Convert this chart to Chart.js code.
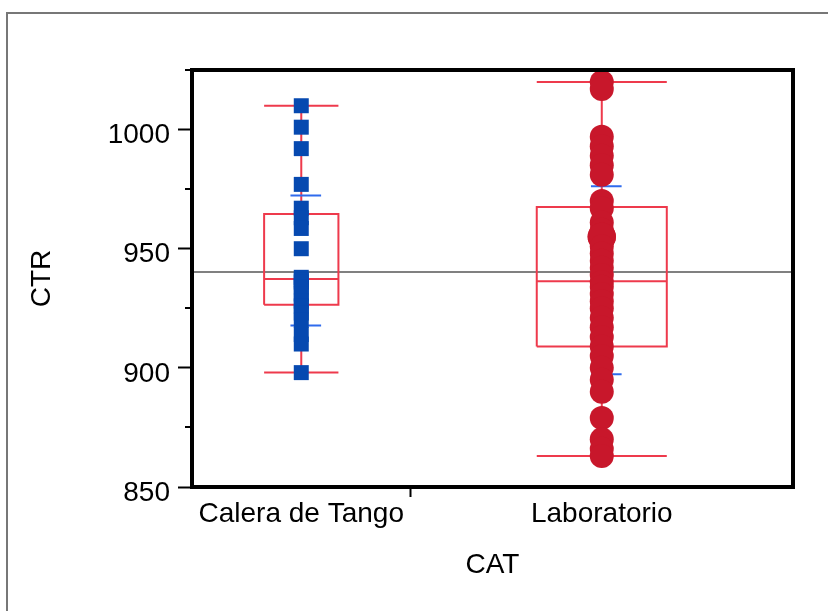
<!DOCTYPE html>
<html>
<head>
<meta charset="utf-8">
<script src="https://cdn.jsdelivr.net/npm/chart.js@4"></script>
<style>
  body { margin: 0; background: #fff; }
  #frame { position: absolute; left: 6px; top: 12px; width: 900px; height: 700px;
           border-top: 2px solid #777; border-left: 2px solid #777; }
  #wrap { position: absolute; left: 0; top: 0; width: 828px; height: 611px; }
</style>
</head>
<body>
<div id="frame"></div>
<div id="wrap"><canvas id="chart"></canvas></div>
<script>
// groups on the CAT axis
let categories = ["Calera de Tango", "Laboratorio"];

// CTR values
let caleraValues = [1010, 1001, 992, 977, 967, 963, 958.5, 950, 938, 937, 936, 934, 931,
  928, 926, 923, 920, 914, 910, 898];
let laboratorioValues = [1020, 1017, 997, 993, 989, 985, 981, 970, 967, 961, 958, 955, 955,
  951, 948, 945, 942, 939, 936, 934, 931, 928, 925, 921, 917, 913, 909, 905, 900, 895, 890,
  879, 870, 866, 863];

// box plot summaries (per category)
let q1 = [926.5, 909];
let median = [937.3, 936.3];
let q3 = [964.6, 967.5];
let whiskerLo = [898, 863];
let whiskerHi = [1010, 1020];

// std dev lines (per category)
let sdLo = [917.8, 897.3];
let sdHi = [972.3, 976.2];

let grandMean = 940.2;

let yTicks = [850, 900, 950, 1000];

const FONT = "'Liberation Sans', Arial, sans-serif";
const RED_BOX = "#ee3a4c";
const BLUE_SD = "#2f6bed";

// x layout like JMP: section width proportional to group size
let groups = [caleraValues, laboratorioValues];
let total = groups.reduce((s, g) => s + g.length, 0);
let centers = [], edges = [0];
groups.forEach((g, i) => {
  let w = g.length / total * 100;
  centers.push(edges[i] + w / 2);
  edges.push(edges[i] + w);
});
let boxHalf = groups.map(g => g.length / total * 100 * 0.17);
let sep = edges[1];

function boxPath(i) {
  let cx = centers[i], l = cx - boxHalf[i], r = cx + boxHalf[i];
  return [
    { x: l, y: q1[i] }, { x: l, y: q3[i] }, { x: r, y: q3[i] }, { x: r, y: q1[i] }, { x: l, y: q1[i] }, { x: l, y: null },
    { x: l, y: median[i] }, { x: r, y: median[i] }, { x: r, y: null },
    { x: l, y: whiskerHi[i] }, { x: r, y: whiskerHi[i] }, { x: r, y: null },
    { x: l, y: whiskerLo[i] }, { x: r, y: whiskerLo[i] }, { x: r, y: null },
    { x: cx, y: whiskerHi[i] }, { x: cx, y: q3[i] }, { x: cx, y: null },
    { x: cx, y: q1[i] }, { x: cx, y: whiskerLo[i] }
  ];
}

function sdPath(i) {
  let a = centers[i] - 1.8, b = centers[i] + 3.3;
  return [{ x: a, y: sdHi[i] }, { x: b, y: sdHi[i] }, { x: b, y: null },
          { x: a, y: sdLo[i] }, { x: b, y: sdLo[i] }];
}

function points(i) {
  return groups[i].map(v => ({ x: centers[i], y: v }));
}

function dupRadius(base, values) {
  return ctx => {
    let v = values[ctx.dataIndex];
    let n = values.filter(u => u === v).length;
    return base * (1 + 0.18 * (n - 1));
  };
}

function lineSet(data, color, width, order) {
  return {
    type: "scatter", data, showLine: true, spanGaps: false,
    borderColor: color, backgroundColor: color, borderWidth: width,
    pointRadius: 0, pointHoverRadius: 0, order
  };
}

const frameAndMinor = {
  id: "frameAndMinor",
  afterDraw(chart) {
    let ctx = chart.ctx, y = chart.scales.y, a = chart.chartArea;
    ctx.save();
    ctx.strokeStyle = "#000";
    ctx.lineWidth = 2;
    y.ticks.forEach(t => {
      if (yTicks.includes(t.value)) return;
      let py = Math.round(y.getPixelForValue(t.value));
      ctx.beginPath();
      ctx.moveTo(a.left - 7, py);
      ctx.lineTo(a.left, py);
      ctx.stroke();
    });
    ctx.lineWidth = 4;
    ctx.strokeRect(a.left, a.top, a.right - a.left, a.bottom - a.top);
    ctx.restore();
  }
};

new Chart(document.getElementById("chart").getContext("2d"), {
  type: "scatter",
  data: {
    datasets: [
      {
        data: points(0), pointStyle: "rect", pointRadius: 10.6, pointHoverRadius: 10.6,
        backgroundColor: "#0649b0", borderColor: "#0649b0", borderWidth: 0, order: 0
      },
      {
        data: points(1), pointStyle: "circle",
        pointRadius: dupRadius(12, laboratorioValues), pointHoverRadius: 12,
        backgroundColor: "#c8172b", borderColor: "#c8172b", borderWidth: 0, order: 0
      },
      lineSet(sdPath(0), BLUE_SD, 2, 1),
      lineSet(sdPath(1), BLUE_SD, 2, 1),
      lineSet(boxPath(0), RED_BOX, 2, 2),
      lineSet(boxPath(1), RED_BOX, 2, 2),
      lineSet([{ x: 0, y: grandMean }, { x: 100, y: grandMean }], "#808080", 2, 3)
    ]
  },
  options: {
    responsive: true,
    maintainAspectRatio: false,
    animation: false,
    layout: { padding: { top: 70, right: 35, left: 0, bottom: 0 } },
    plugins: { legend: { display: false }, tooltip: { enabled: false } },
    scales: {
      x: {
        type: "linear", min: 0, max: 100,
        afterBuildTicks: s => { s.ticks = [{ value: centers[0] }, { value: sep }, { value: centers[1] }]; },
        afterFit: s => { s.height = 124; },
        ticks: {
          autoSkip: false, maxRotation: 0, color: "#000", padding: 0,
          font: { family: FONT, size: 28 },
          callback: (v, i) => i === 0 ? categories[0] : i === 2 ? categories[1] : ""
        },
        grid: {
          drawOnChartArea: false, tickLength: 10, tickWidth: 2,
          tickColor: c => (c.tick && Math.abs(c.tick.value - sep) < 1e-6) ? "#000" : "rgba(0,0,0,0)"
        },
        border: { display: false },
        title: {
          display: true, text: "CAT", color: "#000",
          font: { family: FONT, size: 28, lineHeight: 1 }, padding: { bottom: 32, top: 0 }
        }
      },
      y: {
        min: 850, max: 1025,
        afterFit: s => { s.width = 192; },
        ticks: {
          stepSize: 25, color: "#000", padding: 8, labelOffset: 6,
          font: { family: FONT, size: 28 },
          callback: v => yTicks.includes(v) ? String(v) : ""
        },
        grid: {
          drawOnChartArea: false, tickLength: 14, tickWidth: 2,
          tickColor: c => (c.tick && yTicks.includes(c.tick.value)) ? "#000" : "rgba(0,0,0,0)"
        },
        border: { display: false },
        title: {
          display: true, text: "CTR", color: "#000",
          font: { family: FONT, size: 28, lineHeight: 1 }, padding: { top: 28, bottom: 0 }
        }
      }
    }
  },
  plugins: [frameAndMinor]
});
</script>
</body>
</html>
